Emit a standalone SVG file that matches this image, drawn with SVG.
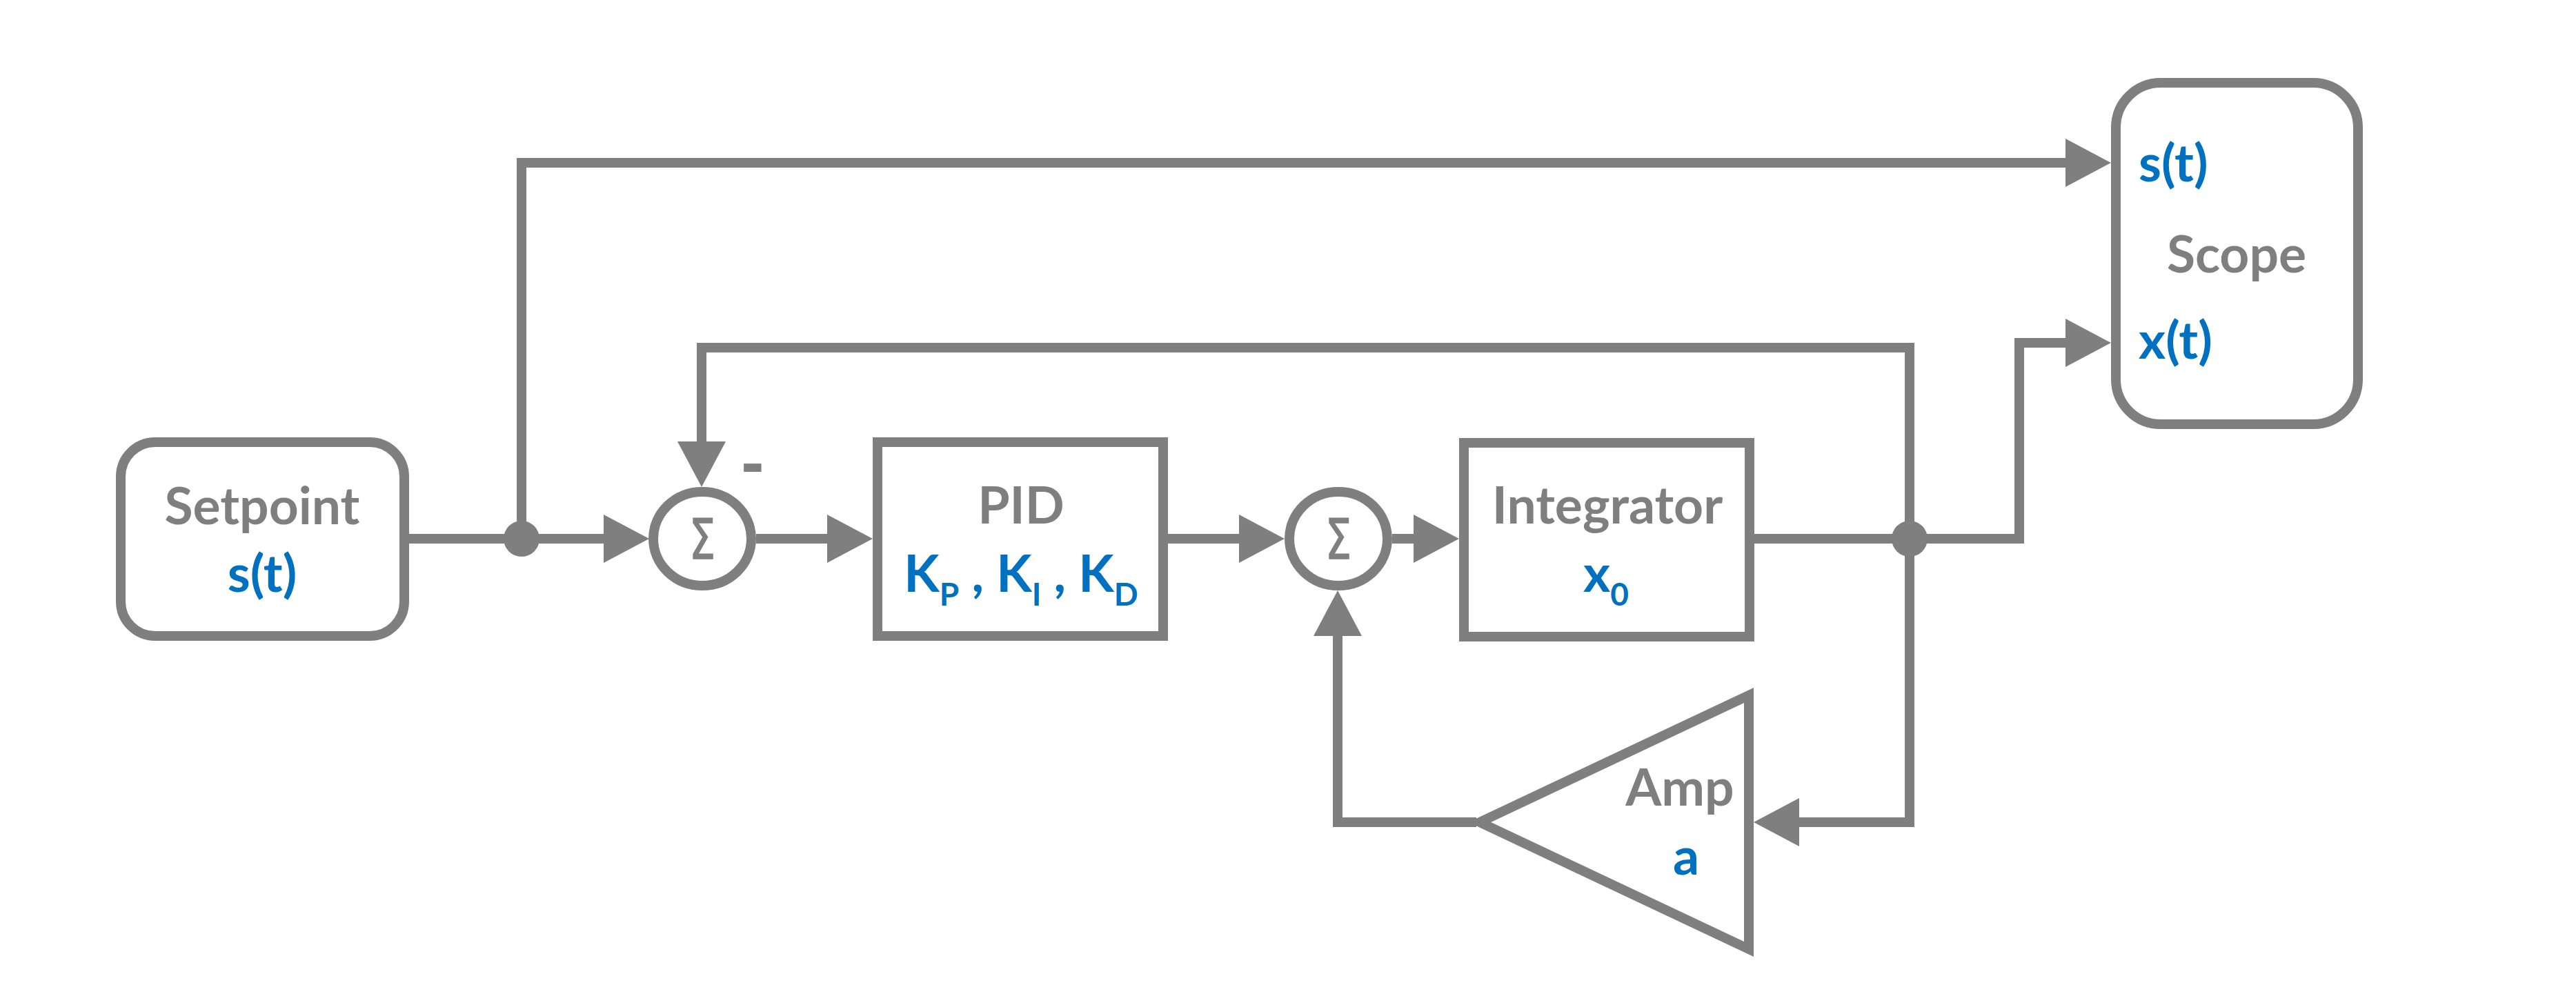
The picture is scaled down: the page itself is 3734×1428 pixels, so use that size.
<svg xmlns="http://www.w3.org/2000/svg" width="3734" height="1428" viewBox="0 0 3734 1428">
<style>
.box{fill:#fff;stroke:#7f7f7f;stroke-width:14}
.ln{fill:none;stroke:#7f7f7f;stroke-width:14;stroke-linejoin:miter}
.t{font-family:Lato,"Liberation Sans",sans-serif;font-weight:bold;font-size:75px;fill:#7f7f7f}
.b{fill:#0070c0}
.sg{font-family:"DejaVu Sans","Liberation Sans",sans-serif;font-size:80px;fill:#7f7f7f;stroke:#7f7f7f;stroke-width:1.5}
.mn{font-family:"Liberation Sans",sans-serif;font-weight:bold;font-size:100px;fill:#7f7f7f}
.dot{fill:#7f7f7f}
</style>
<defs>
<marker id="arr" viewBox="0 0 66 70" refX="0" refY="35" markerWidth="66" markerHeight="70" markerUnits="userSpaceOnUse" orient="auto">
<path d="M0,0 L66,35 L0,70 Z" fill="#7f7f7f"/>
</marker>
</defs>
<rect width="3734" height="1428" fill="#fff"/>
<g id="connectors">
<path class="ln" d="M591,781 H875" marker-end="url(#arr)"/>
<path class="ln" d="M756,781 V236 H2994" marker-end="url(#arr)"/>
<path class="ln" d="M1096,781 H1199" marker-end="url(#arr)"/>
<path class="ln" d="M1693,781 H1796" marker-end="url(#arr)"/>
<path class="ln" d="M2018,781 H2049" marker-end="url(#arr)"/>
<path class="ln" d="M2543,781 H2927 V497 H2994" marker-end="url(#arr)"/>
<path class="ln" d="M2768,781 V504 H1017 V640" marker-end="url(#arr)"/>
<path class="ln" d="M2768,781 V1192 H2608" marker-end="url(#arr)"/>
<path class="ln" d="M2140,1192 H1939 V922" marker-end="url(#arr)"/>
<circle class="dot" cx="756" cy="781" r="26"/>
<circle class="dot" cx="2768" cy="781" r="26"/>
</g>
<g id="setpoint">
<rect class="box" x="175" y="641" width="411" height="281" rx="50"/>
<text class="t" x="380" y="760" text-anchor="middle">Setpoint</text>
<text class="t b" x="380" y="858" text-anchor="middle">s(t)</text>
</g>
<g id="sum1">
<ellipse class="box" cx="1018" cy="781" rx="71" ry="68"/>
<text class="sg" x="999" y="810" textLength="38" lengthAdjust="spacingAndGlyphs">Σ</text>
<text class="mn" x="1091" y="704" text-anchor="middle">-</text>
</g>
<g id="pid">
<rect class="box" x="1272" y="641" width="414" height="281"/>
<text class="t" x="1480" y="759" text-anchor="middle">PID</text>
<text class="t b" x="1480" y="858" text-anchor="middle">K<tspan dy="20" font-size="46">P</tspan><tspan dy="-20"> , K</tspan><tspan dy="20" font-size="46">I</tspan><tspan dy="-20"> , K</tspan><tspan dy="20" font-size="46">D</tspan></text>
</g>
<g id="sum2">
<ellipse class="box" cx="1940" cy="781" rx="71" ry="68"/>
<text class="sg" x="1921" y="810" textLength="38" lengthAdjust="spacingAndGlyphs">Σ</text>
</g>
<g id="integrator">
<rect class="box" x="2122" y="642" width="414" height="281"/>
<text class="t" x="2330" y="759" text-anchor="middle">Integrator</text>
<text class="t b" x="2328" y="858" text-anchor="middle">x<tspan dy="20" font-size="46">0</tspan></text>
</g>
<g id="amp">
<polygon class="box" points="2535,1008 2535,1376 2145,1192"/>
<text class="t" x="2435" y="1168" text-anchor="middle">Amp</text>
<text class="t b" x="2444" y="1268" text-anchor="middle">a</text>
</g>
<g id="scope">
<rect class="box" x="3067" y="120" width="351" height="495" rx="65"/>
<text class="t b" x="3100" y="263">s(t)</text>
<text class="t" x="3242" y="395" text-anchor="middle">Scope</text>
<text class="t b" x="3100" y="520">x(t)</text>
</g>
</svg>
